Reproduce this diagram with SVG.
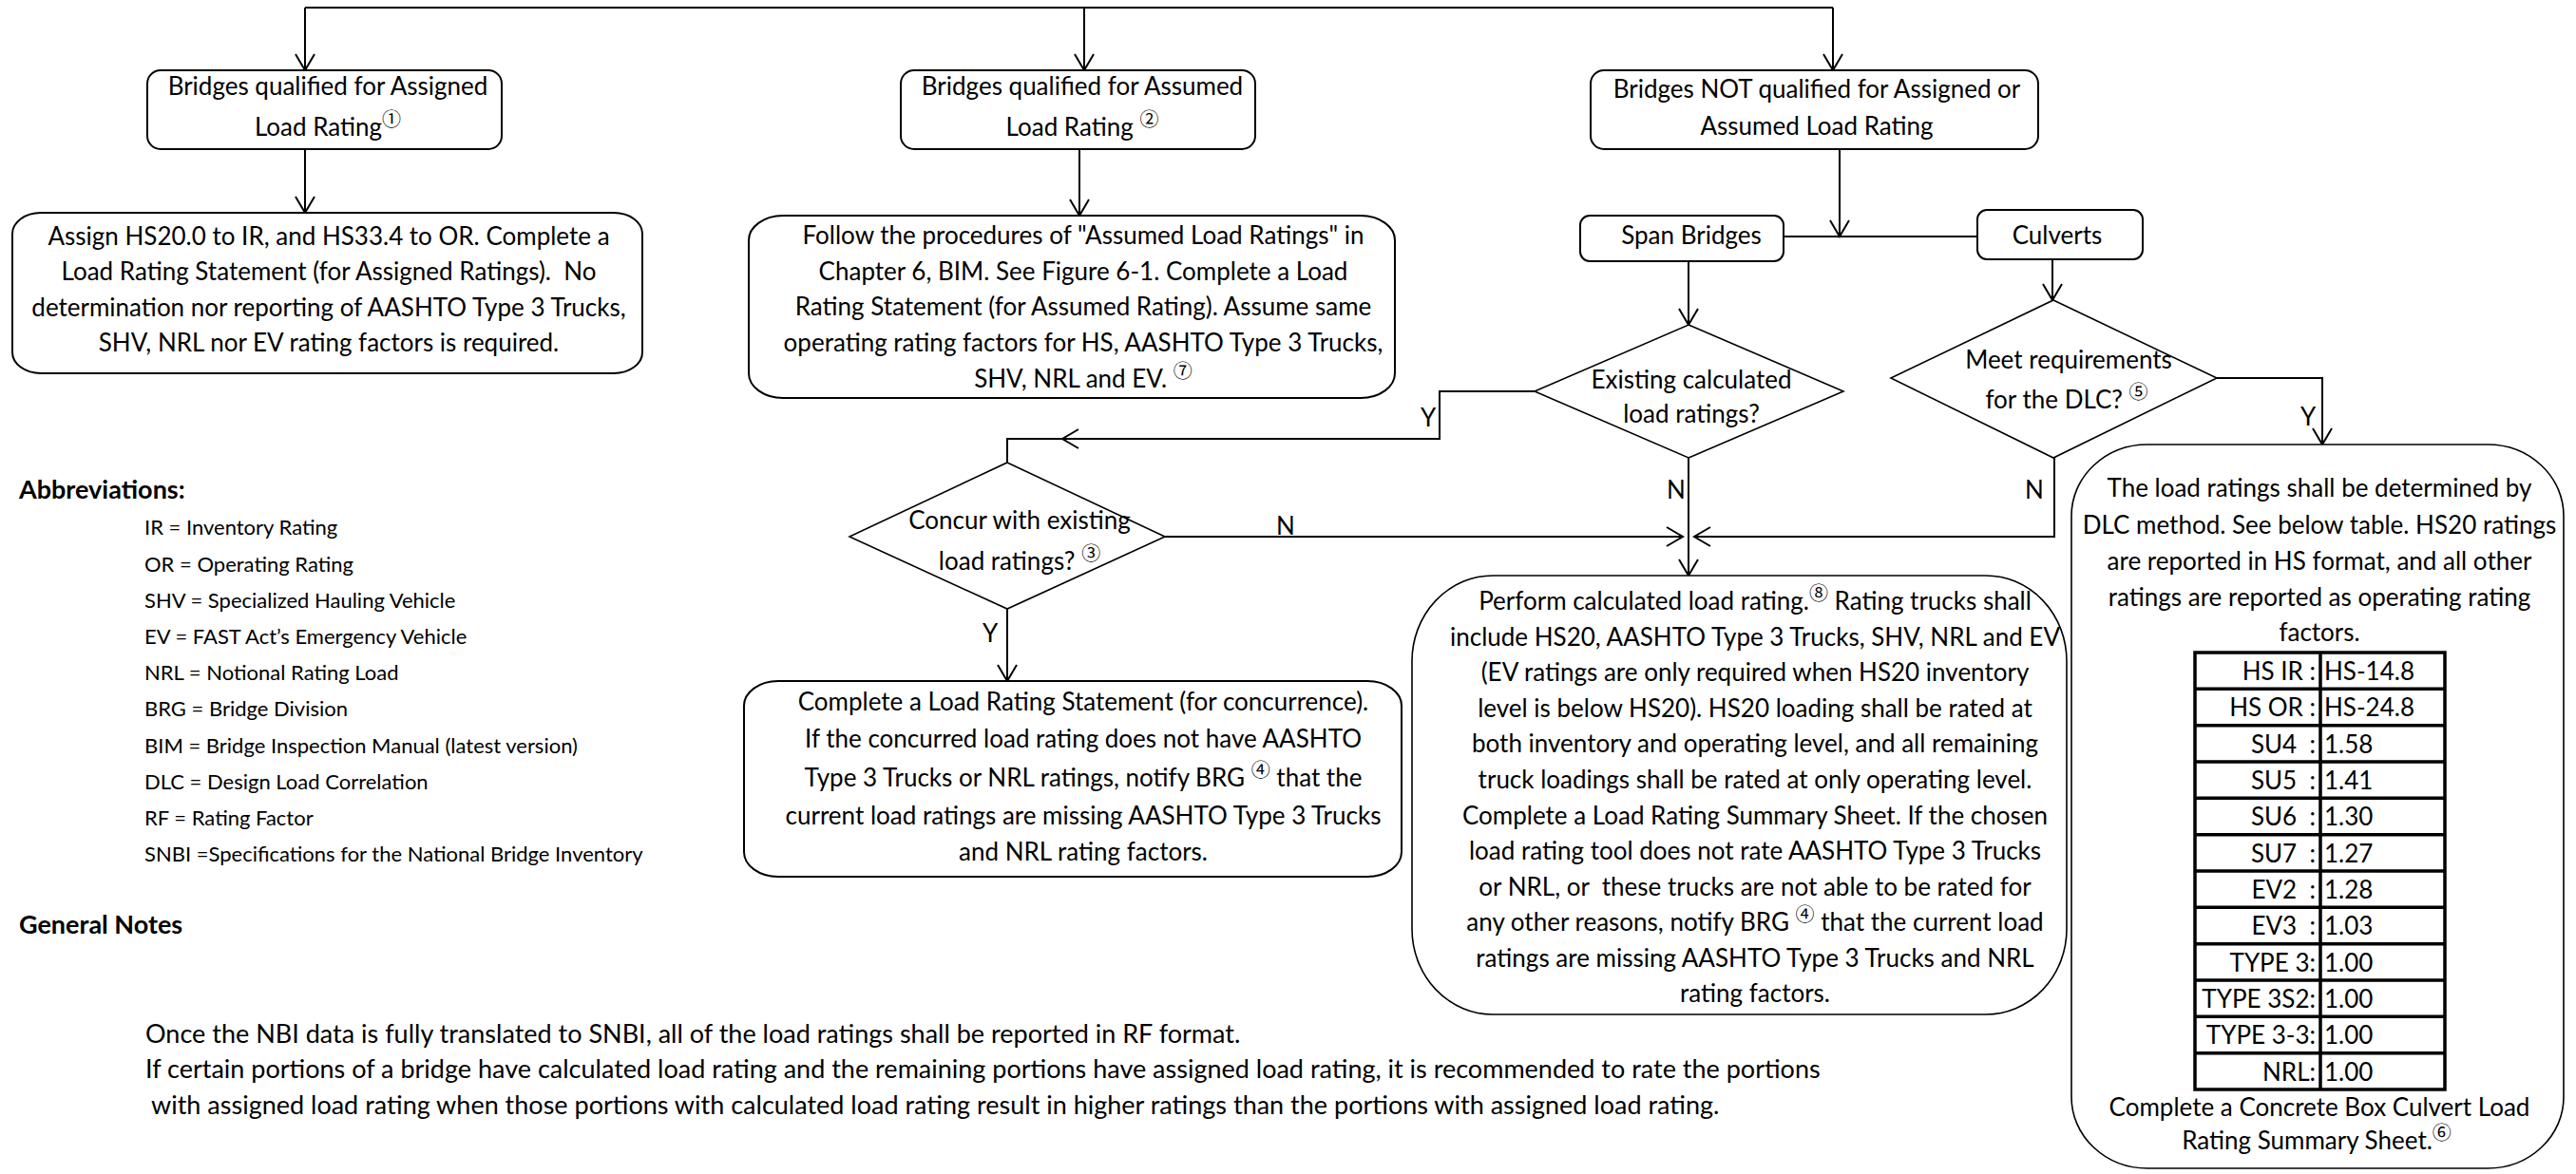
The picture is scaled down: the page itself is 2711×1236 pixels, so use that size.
<svg xmlns="http://www.w3.org/2000/svg" width="2711" height="1236" viewBox="0 0 2711 1236">
<defs>
<marker id="arr" markerUnits="userSpaceOnUse" viewBox="-20 -13 22 26" markerWidth="22" markerHeight="26" refX="0" refY="0" orient="auto">
<path d="M-17,-10 L0,0 L-17,10" fill="none" stroke="#000" stroke-width="2"/>
</marker>
</defs>
<style>
text{font-family:Lato,"Liberation Sans",sans-serif;fill:#000}
.t{font-size:26px;text-anchor:middle}
.ab{font-size:22px}
.gn{font-size:27px}
.h{font-size:27px;font-weight:bold}
.c{font-family:"Noto Sans CJK JP","DejaVu Sans",sans-serif;font-size:20px}
.box{fill:#fff;stroke:#000;stroke-width:2}
.dia{fill:#fff;stroke:#000;stroke-width:1.6}
.ln{fill:none;stroke:#000;stroke-width:2}
.lbl{font-size:26px;text-anchor:middle}
.tb{fill:none;stroke:#000;stroke-width:3.5}
.tl{font-size:26px;text-anchor:end;white-space:pre}
.tv{font-size:26px;text-anchor:start}
</style>
<rect width="2711" height="1236" fill="#fff"/>

<g id="connectors">
<path class="ln" d="M321,8 H1929"/>
<path class="ln" d="M321,8 V74" marker-end="url(#arr)"/>
<path class="ln" d="M1141,8 V74" marker-end="url(#arr)"/>
<path class="ln" d="M1929,8 V74" marker-end="url(#arr)"/>
<path class="ln" d="M321,157 V224" marker-end="url(#arr)"/>
<path class="ln" d="M1136,157 V227" marker-end="url(#arr)"/>
<path class="ln" d="M1936,157 V249" marker-end="url(#arr)"/>
<path class="ln" d="M1877,249 H2081"/>
<path class="ln" d="M1777,275 V342" marker-end="url(#arr)"/>
<path class="ln" d="M2160,273 V316" marker-end="url(#arr)"/>
<path class="ln" d="M1615,412 H1515 V462 H1118" marker-end="url(#arr)"/>
<path class="ln" d="M1118,462 H1060 V487"/>
<path class="ln" d="M1226,565 H1771" marker-end="url(#arr)"/>
<path class="ln" d="M1060,641 V717" marker-end="url(#arr)"/>
<path class="ln" d="M1777,482 V606" marker-end="url(#arr)"/>
<path class="ln" d="M2162,482 V565 H1783" marker-end="url(#arr)"/>
<path class="ln" d="M2333,398 H2444 V468" marker-end="url(#arr)"/>
<text class="lbl" x="1503" y="449">Y</text>
<text class="lbl" x="1353" y="563">N</text>
<text class="lbl" x="1042" y="676">Y</text>
<text class="lbl" x="1764" y="525">N</text>
<text class="lbl" x="2141" y="525">N</text>
<text class="lbl" x="2429" y="448">Y</text>
</g>

<g id="assigned">
<rect class="box" x="155" y="74" width="373" height="83" rx="14"/>
<text class="t" x="345" y="100">Bridges qualified for Assigned</text>
<text class="t" x="345" y="143">Load Rating<tspan class="c" dy="-10">①</tspan></text>
</g>

<g id="assigned-action">
<rect class="box" x="13" y="224" width="663" height="169" rx="30" ry="22"/>
<text class="t" x="346" y="258">Assign HS20.0 to IR, and HS33.4 to OR. Complete a</text>
<text class="t" x="346" y="295" xml:space="preserve">Load Rating Statement (for Assigned Ratings).  No</text>
<text class="t" x="346" y="333">determination nor reporting of AASHTO Type 3 Trucks,</text>
<text class="t" x="346" y="370">SHV, NRL nor EV rating factors is required.</text>
</g>

<g id="assumed">
<rect class="box" x="948" y="74" width="373" height="83" rx="14"/>
<text class="t" x="1139" y="100">Bridges qualified for Assumed</text>
<text class="t" x="1139" y="143">Load Rating <tspan class="c" dy="-10">②</tspan></text>
</g>

<g id="assumed-action">
<rect class="box" x="788" y="227" width="680" height="192" rx="36" ry="26"/>
<text class="t" x="1140" y="257">Follow the procedures of "Assumed Load Ratings" in</text>
<text class="t" x="1140" y="295">Chapter 6, BIM. See Figure 6-1. Complete a Load</text>
<text class="t" x="1140" y="332">Rating Statement (for Assumed Rating). Assume same</text>
<text class="t" x="1140" y="370">operating rating factors for HS, AASHTO Type 3 Trucks,</text>
<text class="t" x="1140" y="408">SHV, NRL and EV. <tspan class="c" dy="-10">⑦</tspan></text>
</g>

<g id="not-qualified">
<rect class="box" x="1674" y="74" width="471" height="83" rx="14"/>
<text class="t" x="1912" y="103">Bridges NOT qualified for Assigned or</text>
<text class="t" x="1912" y="142">Assumed Load Rating</text>
</g>

<g id="span-bridges">
<rect class="box" x="1663" y="227" width="214" height="48" rx="10"/>
<text class="t" x="1780" y="257">Span Bridges</text>
</g>

<g id="culverts">
<rect class="box" x="2081" y="221" width="174" height="52" rx="10"/>
<text class="t" x="2165" y="257">Culverts</text>
</g>

<g id="existing-decision">
<polygon class="dia" points="1777,342 1940,412 1777,482 1615,412"/>
<text class="t" x="1780" y="409">Existing calculated</text>
<text class="t" x="1780" y="445">load ratings?</text>
</g>

<g id="concur-decision">
<polygon class="dia" points="1060,487 1226,565 1060,641 894,565"/>
<text class="t" x="1073" y="557">Concur with existing</text>
<text class="t" x="1073" y="600">load ratings? <tspan class="c" dy="-10">③</tspan></text>
</g>

<g id="concur-action">
<rect class="box" x="783" y="717" width="692" height="206" rx="36" ry="26"/>
<text class="t" x="1140" y="748">Complete a Load Rating Statement (for concurrence).</text>
<text class="t" x="1140" y="787">If the concurred load rating does not have AASHTO</text>
<text class="t" x="1140" y="828">Type 3 Trucks or NRL ratings, notify BRG <tspan class="c" dy="-10">④</tspan><tspan dy="10"> that the</tspan></text>
<text class="t" x="1140" y="868">current load ratings are missing AASHTO Type 3 Trucks</text>
<text class="t" x="1140" y="906">and NRL rating factors.</text>
</g>

<g id="dlc-decision">
<polygon class="dia" points="2161,316 2333,398 2161,482 1990,398"/>
<text class="t" x="2177" y="388">Meet requirements</text>
<text class="t" x="2175" y="430">for the DLC? <tspan class="c" dy="-10">⑤</tspan></text>
</g>

<g id="calculated-action">
<rect class="box" x="1486" y="606" width="689" height="462" rx="85" ry="90" style="stroke-width:1.6"/>
<text class="t" x="1847" y="642">Perform calculated load rating.<tspan class="c" dy="-10">⑧</tspan><tspan dy="10"> Rating trucks shall</tspan></text>
<text class="t" x="1847" y="680">include HS20, AASHTO Type 3 Trucks, SHV, NRL and EV</text>
<text class="t" x="1847" y="717">(EV ratings are only required when HS20 inventory</text>
<text class="t" x="1847" y="755">level is below HS20). HS20 loading shall be rated at</text>
<text class="t" x="1847" y="792">both inventory and operating level, and all remaining</text>
<text class="t" x="1847" y="830">truck loadings shall be rated at only operating level.</text>
<text class="t" x="1847" y="868">Complete a Load Rating Summary Sheet. If the chosen</text>
<text class="t" x="1847" y="905">load rating tool does not rate AASHTO Type 3 Trucks</text>
<text class="t" x="1847" y="943" xml:space="preserve">or NRL, or  these trucks are not able to be rated for</text>
<text class="t" x="1847" y="980">any other reasons, notify BRG <tspan class="c" dy="-10">④</tspan><tspan dy="10"> that the current load</tspan></text>
<text class="t" x="1847" y="1018">ratings are missing AASHTO Type 3 Trucks and NRL</text>
<text class="t" x="1847" y="1055">rating factors.</text>
</g>

<g id="dlc-action">
<rect class="box" x="2180" y="468" width="518" height="762" rx="80" ry="75" style="stroke-width:1.6"/>
<text class="t" x="2441" y="523">The load ratings shall be determined by</text>
<text class="t" x="2441" y="562">DLC method. See below table. HS20 ratings</text>
<text class="t" x="2441" y="600">are reported in HS format, and all other</text>
<text class="t" x="2441" y="638">ratings are reported as operating rating</text>
<text class="t" x="2441" y="675">factors.</text>
<g id="dlc-table">
<rect class="tb" x="2310" y="687" width="263" height="460"/>
<path class="tb" d="M2442,687 V1147 M2310,725.3 H2573 M2310,763.7 H2573 M2310,802 H2573 M2310,840.3 H2573 M2310,878.7 H2573 M2310,917 H2573 M2310,955.3 H2573 M2310,993.7 H2573 M2310,1032 H2573 M2310,1070.3 H2573 M2310,1108.7 H2573"/>
<text class="tl" x="2437" y="716">HS IR :</text><text class="tv" x="2446" y="716">HS-14.8</text>
<text class="tl" x="2437" y="754">HS OR :</text><text class="tv" x="2446" y="754">HS-24.8</text>
<text class="tl" x="2437" y="793">SU4  :</text><text class="tv" x="2446" y="793">1.58</text>
<text class="tl" x="2437" y="831">SU5  :</text><text class="tv" x="2446" y="831">1.41</text>
<text class="tl" x="2437" y="869">SU6  :</text><text class="tv" x="2446" y="869">1.30</text>
<text class="tl" x="2437" y="908">SU7  :</text><text class="tv" x="2446" y="908">1.27</text>
<text class="tl" x="2437" y="946">EV2  :</text><text class="tv" x="2446" y="946">1.28</text>
<text class="tl" x="2437" y="984">EV3  :</text><text class="tv" x="2446" y="984">1.03</text>
<text class="tl" x="2437" y="1023">TYPE 3:</text><text class="tv" x="2446" y="1023">1.00</text>
<text class="tl" x="2437" y="1061">TYPE 3S2:</text><text class="tv" x="2446" y="1061">1.00</text>
<text class="tl" x="2437" y="1099">TYPE 3-3:</text><text class="tv" x="2446" y="1099">1.00</text>
<text class="tl" x="2437" y="1138">NRL:</text><text class="tv" x="2446" y="1138">1.00</text>
</g>
<text class="t" x="2441" y="1175">Complete a Concrete Box Culvert Load</text>
<text class="t" x="2438" y="1210">Rating Summary Sheet.<tspan class="c" dy="-10">⑥</tspan></text>
</g>

<g id="abbreviations">
<text class="h" x="20" y="525">Abbreviations:</text>
<text class="ab" x="152" y="563">IR = Inventory Rating</text>
<text class="ab" x="152" y="602">OR = Operating Rating</text>
<text class="ab" x="152" y="640">SHV = Specialized Hauling Vehicle</text>
<text class="ab" x="152" y="678">EV = FAST Act’s Emergency Vehicle</text>
<text class="ab" x="152" y="716">NRL = Notional Rating Load</text>
<text class="ab" x="152" y="754">BRG = Bridge Division</text>
<text class="ab" x="152" y="793">BIM = Bridge Inspection Manual (latest version)</text>
<text class="ab" x="152" y="831">DLC = Design Load Correlation</text>
<text class="ab" x="152" y="869">RF = Rating Factor</text>
<text class="ab" x="152" y="907">SNBI =Specifications for the National Bridge Inventory</text>
</g>

<g id="general-notes">
<text class="h" x="20" y="983">General Notes</text>
<text class="gn" x="153" y="1098">Once the NBI data is fully translated to SNBI, all of the load ratings shall be reported in RF format.</text>
<text class="gn" x="153" y="1135">If certain portions of a bridge have calculated load rating and the remaining portions have assigned load rating, it is recommended to rate the portions</text>
<text class="gn" x="159" y="1173">with assigned load rating when those portions with calculated load rating result in higher ratings than the portions with assigned load rating.</text>
</g>
</svg>
